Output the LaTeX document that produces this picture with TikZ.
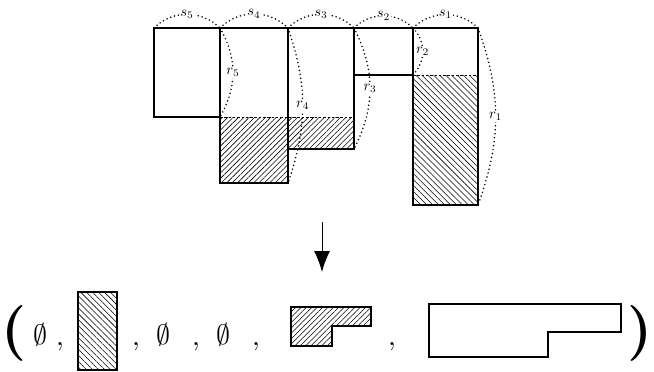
\documentclass[tikz,border=0pt]{standalone}
\usetikzlibrary{patterns.meta,arrows.meta}
\begin{document}
\begin{tikzpicture}[x=1pt,y=-1pt,
  box/.style={line width=1.3pt, line join=miter},
  hatchne/.style={pattern={Lines[angle=45,distance=3.8pt,line width=0.55pt]}},
  hatchnw/.style={pattern={Lines[angle=-45,distance=4.2pt,line width=0.55pt]}},
  dashline/.style={line width=0.7pt, dash pattern=on 2.5pt off 1.8pt},
  dotarc/.style={line width=1.7pt, line cap=round, dash pattern=on 0pt off 4pt},
  lab/.style={fill=white, inner sep=0.7pt, scale=1.45},
  big/.style={inner sep=0pt, anchor=base, scale=2.8},
  paren/.style={font=\bfseries, inner sep=0pt, scale=5.6}]
\useasboundingbox (0,0) rectangle (654,372);
% corners
\coordinate (t0) at (154,28);
\coordinate (t1) at (220,28);
\coordinate (t2) at (288,28);
\coordinate (t3) at (354,28);
\coordinate (t4) at (413,28);
\coordinate (t5) at (478,28);
\coordinate (b5) at (220,117);
\coordinate (b4) at (288,183);
\coordinate (b3) at (354,149);
\coordinate (b2) at (413,75);
\coordinate (b1) at (478,205);
% hatching
\fill[hatchne] (220,117) rectangle (288,183);
\fill[hatchne] (288,117) rectangle (354,149);
\fill[hatchnw] (413,75) rectangle (478,205);
% dashed lines
\draw[dashline] (220,117) -- (354,117);
\draw[dashline] (413,75) -- (478,75);
% rectangles
\draw[box] (t0) rectangle (b5);
\draw[box] (t1) rectangle (b4);
\draw[box] (t2) rectangle (b3);
\draw[box] (t3) rectangle (b2);
\draw[box] (t4) rectangle (b1);
% s arcs
\draw[dotarc] (t0) to[bend left=45] node[lab] (s5) {$s_5$} (t1);
\draw[dotarc] (t1) to[bend left=45] node[lab] (s4) {$s_4$} (t2);
\draw[dotarc] (t2) to[bend left=45] node[lab] (s3) {$s_3$} (t3);
\draw[dotarc] (t3) to[bend left=45] node[lab] (s2) {$s_2$} (t4);
\draw[dotarc] (t4) to[bend left=45] node[lab] (s1) {$s_1$} (t5);
% r arcs
\draw[dotarc] (t1) to[bend left=30] node[lab] (r5) {$r_5$} (b5);
\draw[dotarc] (t2) to[bend left=19] node[lab] (r4) {$r_4$} (b4);
\draw[dotarc] (t3) to[bend left=27] node[lab] (r3) {$r_3$} (b3);
\draw[dotarc] (t4) to[bend left=45] node[lab] (r2) {$r_2$} (b2);
\draw[dotarc] (t5) to[bend left=20] node[lab] (r1) {$r_1$} (b1);
% arrow
\coordinate (a1) at (322,222);
\coordinate (a2) at (322,272);
\draw[line width=1pt, -{Latex[length=21pt,width=16pt]}] (a1) -- (a2);
% bottom row
\node[paren, anchor=base west] (lp) at (0,347) {(};
\node[paren, anchor=base east] (rp) at (654,347) {)};
\node[big] (e1) at (40,344) {$\emptyset$};
\node[big] (c1) at (60,345) {$,$};
\fill[hatchnw] (78,292) rectangle (117,370);
\draw[box] (78,292) rectangle (117,370);
\node[big] (c2) at (136,345) {$,$};
\node[big] (e2) at (163,344) {$\emptyset$};
\node[big] (c3) at (196,345) {$,$};
\node[big] (e3) at (223,344) {$\emptyset$};
\node[big] (c4) at (256,345) {$,$};
\fill[hatchne] (291,307) -- (371,307) -- (371,326) -- (332,326) -- (332,346) -- (291,346) -- cycle;
\draw[box] (291,307) -- (371,307) -- (371,326) -- (332,326) -- (332,346) -- (291,346) -- cycle;
\node[big] (c5) at (392,345) {$,$};
\draw[box] (429,304) -- (621,304) -- (621,332) -- (548,332) -- (548,357) -- (429,357) -- cycle;
\end{tikzpicture}
\end{document}
